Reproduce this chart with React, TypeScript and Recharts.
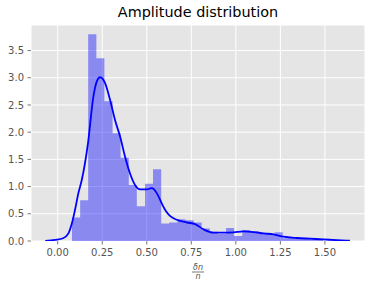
import * as React from "react";
import {
  ComposedChart,
  Area,
  Line,
  XAxis,
  YAxis,
  CartesianGrid,
} from "recharts";

// histogram bin edges (normalised amplitude) and densities per bin
const binEdges = [
  0.08, 0.126, 0.171, 0.217, 0.262, 0.308, 0.353, 0.399, 0.444, 0.49, 0.535,
  0.581, 0.626, 0.672, 0.717, 0.763, 0.808, 0.854, 0.899, 0.945, 0.99, 1.036,
  1.081, 1.127, 1.172, 1.218, 1.263, 1.309, 1.354, 1.4, 1.445, 1.491,
];
const binDensity = [
  0.43, 0.75, 3.8, 3.36, 2.57, 1.98, 1.53, 1.03, 0.64, 1.05, 1.32, 0.32, 0.34,
  0.4, 0.38, 0.34, 0.23, 0.17, 0.13, 0.24, 0.09, 0.2, 0.18, 0.15, 0.14, 0.16,
  0.05, 0.05, 0.04, 0.04, 0.03,
];

// kernel density estimate
const kdeX = [
  -0.07, -0.015, 0.03, 0.06, 0.08, 0.097, 0.116, 0.135, 0.17, 0.2, 0.219,
  0.238, 0.266, 0.294, 0.322, 0.35, 0.378, 0.406, 0.434, 0.462, 0.5, 0.528,
  0.556, 0.584, 0.607, 0.63, 0.668, 0.725, 0.771, 0.818, 0.874, 0.93, 0.987,
  1.043, 1.1, 1.155, 1.211, 1.267, 1.343, 1.417, 1.49, 1.567, 1.64,
];
const kdeY = [
  0.0, 0.02, 0.05, 0.14, 0.33, 0.57, 0.88, 1.12, 1.8, 2.65, 2.93, 3.01, 2.9,
  2.59, 2.22, 1.92, 1.55, 1.24, 1.03, 0.95, 0.95, 0.97, 0.88, 0.69, 0.55, 0.46,
  0.39, 0.34, 0.31, 0.215, 0.153, 0.153, 0.16, 0.178, 0.165, 0.14, 0.123, 0.08,
  0.055, 0.042, 0.03, 0.015, 0.005,
];

const xTicks = [0, 0.25, 0.5, 0.75, 1.0, 1.25, 1.5];
const yTicks = [0, 0.5, 1.0, 1.5, 2.0, 2.5, 3.0, 3.5];

const histData = binEdges.map((x, i) => ({
  x,
  y: binDensity[Math.min(i, binDensity.length - 1)],
}));
const kdeData = kdeX.map((x, i) => ({ x, y: kdeY[i] }));

const FONT = "'DejaVu Sans', sans-serif";

function FracLabel(props: any) {
  const { viewBox } = props;
  const cx = viewBox.x + viewBox.width / 2;
  const top = viewBox.y;
  return (
    <g fontFamily={FONT} fontStyle="italic" fontSize={8} fill="#555">
      <text x={cx} y={top + 29} textAnchor="middle">
        δn
      </text>
      <line x1={cx - 6} x2={cx + 6} y1={top + 31} y2={top + 31} stroke="#555" strokeWidth={0.8} />
      <text x={cx} y={top + 37.5} textAnchor="middle">
        n
      </text>
    </g>
  );
}

export default function App() {
  return (
    <div style={{ position: "absolute", left: 0, top: 0, width: 372, height: 290, background: "#fff" }}>
      <div
        style={{
          position: "absolute",
          left: 31,
          width: 334,
          top: 4,
          textAlign: "center",
          fontFamily: FONT,
          fontSize: 14.4,
          lineHeight: "17px",
          color: "#000",
        }}
      >
        Amplitude distribution
      </div>
      <ComposedChart width={372} height={290} margin={{ top: 25, right: 7, bottom: 0, left: 0 }}>
        <CartesianGrid fill="#e5e5e5" stroke="#fff" strokeWidth={1} />
        <XAxis
          type="number"
          dataKey="x"
          domain={[-0.15, 1.725]}
          ticks={xTicks}
          tickFormatter={(v: number) => v.toFixed(2)}
          allowDataOverflow
          height={49}
          axisLine={false}
          tickLine={{ stroke: "#555", strokeWidth: 0.8 }}
          tickSize={3.5}
          tickMargin={4}
          tick={{ fill: "#555", fontSize: 10, fontFamily: FONT }}
          label={<FracLabel />}
        />
        <YAxis
          type="number"
          domain={[0, 3.97]}
          ticks={yTicks}
          tickFormatter={(v: number) => v.toFixed(1)}
          allowDataOverflow
          width={31}
          axisLine={false}
          tickLine={{ stroke: "#555", strokeWidth: 0.8 }}
          tickSize={3.5}
          tickMargin={3.5}
          tick={{ fill: "#555", fontSize: 10, fontFamily: FONT }}
        />
        <Area
          data={histData}
          dataKey="y"
          type="stepAfter"
          stroke="none"
          fill="#0000ff"
          fillOpacity={0.4}
          isAnimationActive={false}
          dot={false}
          activeDot={false}
        />
        <Line
          data={kdeData}
          dataKey="y"
          type="monotone"
          stroke="#0000ff"
          strokeWidth={1.8}
          dot={false}
          activeDot={false}
          isAnimationActive={false}
        />
      </ComposedChart>
    </div>
  );
}
